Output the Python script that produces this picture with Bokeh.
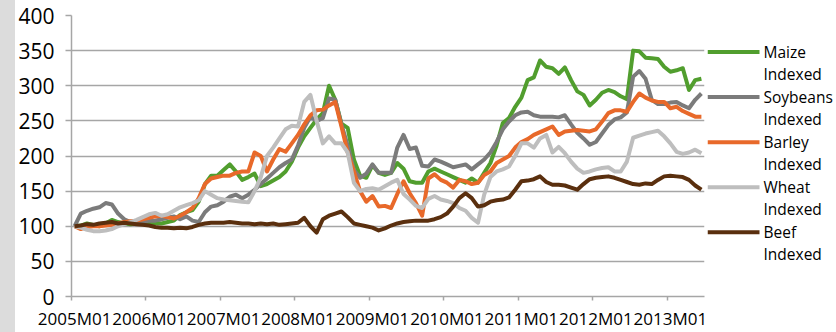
from bokeh.plotting import figure
from bokeh.models import Range1d, FixedTicker, Div, ColumnDataSource
from bokeh.core.properties import value
from bokeh.layouts import row
from bokeh.embed import file_html
from bokeh.resources import INLINE

# ---- data -------------------------------------------------------------
years = list(range(2005, 2014))
months = [f"{y}M{m:02d}" for y in years for m in range(1, 13)][:102]
year_labels = ["2005M01", "2006M01", "2007M01", "2008M01", "2009M01",
               "2010M01", "2011M01", "2012M01", "2013M01"]

maize = [100, 101, 104, 102, 100, 104, 109, 106, 104, 103, 104, 104,
         104, 105, 104, 106, 108, 116, 120, 123, 135, 160, 172, 172,
         180, 188, 178, 166, 170, 175, 157, 160, 165, 170, 178, 192,
         212, 228, 240, 252, 261, 300, 280, 246, 240, 195, 172, 169,
         187, 176, 173, 176, 190, 182, 164, 162, 162, 178, 182, 178,
         174, 170, 166, 162, 168, 162, 176, 190, 215, 247, 254, 270,
         283, 308, 312, 336, 327, 325, 317, 326, 308, 292, 287, 272,
         280, 290, 294, 291, 285, 281, 350, 349, 340, 339, 338, 327,
         320, 322, 325, 294, 308, 310]

soybeans = [100, 118, 122, 125, 127, 133, 131, 118, 110, 106, 105, 106,
            108, 108, 110, 112, 114, 110, 114, 108, 106, 120, 128, 130,
            135, 142, 145, 140, 145, 152, 160, 168, 176, 184, 190, 195,
            215, 240, 256, 250, 254, 282, 280, 245, 215, 180, 169, 175,
            188, 176, 176, 176, 212, 230, 210, 212, 186, 185, 195, 192,
            188, 184, 186, 188, 181, 188, 195, 205, 220, 238, 249, 258,
            262, 263, 258, 256, 256, 256, 255, 258, 245, 233, 225, 216,
            220, 232, 244, 252, 255, 262, 313, 321, 310, 280, 274, 274,
            276, 277, 272, 268, 280, 289]

barley = [100, 96, 99, 100, 100, 101, 102, 104, 106, 107, 108, 110,
          112, 114, 115, 113, 111, 115, 120, 126, 140, 160, 168, 170,
          172, 172, 176, 178, 178, 205, 200, 178, 195, 210, 206, 218,
          230, 245, 258, 265, 266, 272, 277, 242, 205, 178, 150, 135,
          143, 128, 129, 126, 146, 164, 147, 133, 115, 168, 174, 166,
          162, 155, 166, 164, 160, 162, 173, 178, 190, 195, 200, 212,
          220, 224, 230, 234, 238, 242, 230, 235, 236, 237, 236, 235,
          238, 249, 261, 265, 265, 263, 277, 289, 283, 279, 277, 277,
          268, 270, 264, 260, 256, 256]

wheat = [100, 98, 95, 93, 93, 94, 96, 100, 103, 106, 109, 113,
         117, 119, 115, 117, 122, 127, 130, 133, 137, 150, 145, 140,
         138, 137, 136, 135, 134, 150, 170, 200, 212, 225, 238, 243,
         242, 277, 287, 250, 218, 228, 218, 218, 205, 162, 150, 153,
         154, 152, 157, 162, 166, 146, 138, 129, 126, 139, 143, 138,
         136, 133, 126, 122, 112, 105, 145, 170, 178, 181, 185, 200,
         218, 218, 212, 225, 230, 205, 213, 204, 192, 182, 176, 178,
         181, 183, 184, 178, 178, 192, 226, 229, 232, 234, 236, 228,
         218, 206, 203, 205, 209, 204]

beef = [100, 101, 103, 102, 104, 105, 106, 104, 105, 104, 103, 102,
        101, 99, 98, 98, 97, 98, 97, 99, 102, 104, 105, 105,
        105, 106, 105, 104, 104, 103, 104, 103, 104, 102, 103, 104,
        105, 112, 100, 91, 110, 115, 118, 121, 113, 104, 102, 100,
        98, 94, 97, 101, 104, 106, 107, 108, 108, 108, 110, 113,
        118, 128, 140, 147, 140, 128, 130, 135, 137, 138, 141, 152,
        164, 165, 167, 171, 163, 159, 159, 158, 155, 152, 160, 167,
        169, 170, 171, 169, 166, 163, 160, 159, 161, 160, 166, 171,
        172, 171, 170, 166, 158, 152]

series_names = ["Maize", "Soybeans", "Barley", "Wheat", "Beef"]
series_values = [maize, soybeans, barley, wheat, beef]
series_colors = ["#519E2E", "#7B7B7B", "#E8692A", "#BEBEBE", "#5A2F0E"]
label_suffix = "Indexed"

x = list(range(len(months)))

# ---- main chart -----------------------------------------------------------
H = 332
TOP, BOTTOM = 15, 35
GRID = "#A6A6A6"
p = figure(width=692, height=H, output_backend="svg", toolbar_location=None,
           x_range=Range1d(-0.5, len(months) - 0.5), y_range=Range1d(0, 400),
           min_border_left=55, min_border_right=3, min_border_top=TOP,
           min_border_bottom=BOTTOM)
p.outline_line_color = None
p.background_fill_color = "white"
p.border_fill_color = "white"

p.xgrid.grid_line_color = None
p.ygrid.grid_line_color = GRID
p.ygrid.grid_line_width = 1.5

p.yaxis.ticker = FixedTicker(ticks=list(range(0, 401, 50)))
p.yaxis.axis_line_color = GRID
p.yaxis.axis_line_width = 1.5
p.yaxis.major_tick_line_color = GRID
p.yaxis.major_tick_line_width = 1.5
p.yaxis.major_tick_out = 6
p.yaxis.major_tick_in = 0
p.yaxis.minor_tick_line_color = None
p.yaxis.major_label_text_font = "Open Sans"
p.yaxis.major_label_text_font_size = "21px"
p.yaxis.major_label_text_color = "#000000"
p.yaxis.major_label_standoff = 11

label_pos = [12 * k for k in range(len(year_labels))]
p.xaxis.ticker = FixedTicker(ticks=label_pos,
                             minor_ticks=[12 * k - 0.5 for k in range(len(year_labels))])
p.xaxis.major_label_overrides = {pos: lab for pos, lab in zip(label_pos, year_labels)}
p.xaxis.axis_line_color = GRID
p.xaxis.axis_line_width = 1.5
p.xaxis.major_tick_line_color = None
p.xaxis.major_tick_out = 0
p.xaxis.major_tick_in = 0
p.xaxis.minor_tick_line_color = GRID
p.xaxis.minor_tick_line_width = 1.5
p.xaxis.minor_tick_out = 4
p.xaxis.minor_tick_in = 0
p.xaxis.major_label_text_font = "Open Sans"
p.xaxis.major_label_text_font_size = "17px"
p.xaxis.major_label_text_color = "#000000"
p.xaxis.major_label_standoff = 6

for vals, color in zip(series_values, series_colors):
    p.line(x, vals, line_color=color, line_width=4, line_join="round")

# ---- legend panel (separate canvas so that nothing is clipped) ------------
# The row aligns this canvas' frame with the chart's frame, so its y range is
# expressed in page pixels of that frame (top = TOP, bottom = H - BOTTOM).
lg = figure(width=129, height=H, output_backend="svg", toolbar_location=None,
            x_range=Range1d(0, 129), y_range=Range1d(H - BOTTOM, TOP),
            x_axis_location=None, y_axis_location=None,
            min_border_left=0, min_border_right=0,
            min_border_top=TOP, min_border_bottom=BOTTOM)
lg.outline_line_color = None
lg.grid.visible = False
lg.background_fill_color = "white"
lg.border_fill_color = "white"

row0, pitch, line_gap = 51.7, 45.2, 22.3
rows = [row0 + pitch * k for k in range(len(series_names))]
lsrc = ColumnDataSource(dict(
    x0=[0] * len(rows), x1=[52] * len(rows), y=rows, color=series_colors,
    tx=[56] * len(rows), name=series_names,
    y2=[r + line_gap for r in rows], suffix=[label_suffix] * len(rows)))
lg.segment(x0="x0", y0="y", x1="x1", y1="y", line_color="color",
           line_width=4, source=lsrc)
lg.text(x="tx", y="y", text="name", source=lsrc, text_baseline="middle",
        text_font=value("Open Sans"), text_font_size="15.5px",
        text_color="#000000")
lg.text(x="tx", y="y2", text="suffix", source=lsrc, text_baseline="middle",
        text_font=value("Open Sans"), text_font_size="15.5px",
        text_color="#000000")

strip = Div(text="", width=15, height=H, margin=(0, 0, 0, 0),
            styles={"background-color": "#DCDCDC"})
layout = row(strip, p, lg, spacing=0)

open("out.html", "w").write(file_html(layout, INLINE))
